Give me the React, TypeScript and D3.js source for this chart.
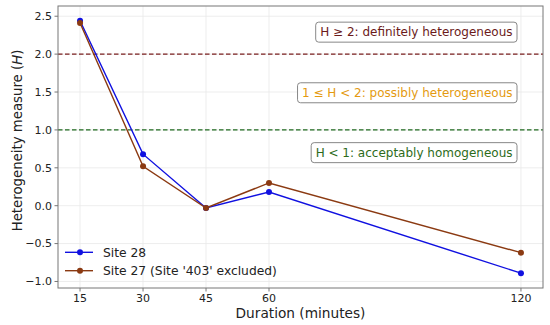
import React, { useEffect, useRef, useState } from 'react';
import * as d3 from 'd3';

const durations = [15, 30, 45, 60, 120];
const site28 = [2.44, 0.68, -0.03, 0.18, -0.89];
const site27 = [2.41, 0.52, -0.03, 0.3, -0.62];
const yTicks = [-1.0, -0.5, 0.0, 0.5, 1.0, 1.5, 2.0, 2.5];
const thresholds = [
  { value: 2.0, color: '#7a1f1f' },
  { value: 1.0, color: '#1f6a1f' },
];
const notes = [
  { label: 'H ≥ 2: definitely heterogeneous', value: 2.29, color: '#6b1a1a' },
  { label: '1 ≤ H < 2: possibly heterogeneous', value: 1.49, color: '#e49a10' },
  { label: 'H < 1: acceptably homogeneous', value: 0.7, color: '#2d6b1a' },
];

const W = 550, H = 325;
const m = { left: 58, right: 7, top: 6, bottom: 37 };
const font = 'DejaVu Sans, sans-serif';

export default function App() {
  const noteRefs = useRef<(SVGTextElement | null)[]>([]);
  const [noteW, setNoteW] = useState<number[]>(notes.map(n => n.label.length * 6.3));

  useEffect(() => {
    const ws = noteRefs.current.map((el, i) => (el ? el.getComputedTextLength() : noteW[i]));
    setNoteW(ws);
  }, []);

  const x = d3.scaleLinear().domain([9.75, 125.25]).range([m.left, W - m.right]);
  const y = d3.scaleLinear().domain([-1.086, 2.635]).range([H - m.bottom, m.top]);
  const line = d3.line<number>().x((_, i) => x(durations[i])).y(d => y(d));
  const series = [
    { name: 'Site 28', values: site28, color: '#1010e0' },
    { name: "Site 27 (Site '403' excluded)", values: site27, color: '#8b3a12' },
  ];
  const x0 = m.left, x1 = W - m.right, y0 = m.top, y1 = H - m.bottom;

  return (
    <svg width={W} height={H} style={{ position: 'absolute', left: 0, top: 0 }} fontFamily={font}>
      <rect width={W} height={H} fill="#fff" />
      {/* grid */}
      {durations.map(d => (
        <line key={'gx' + d} x1={x(d)} x2={x(d)} y1={y0} y2={y1} stroke="#e8e8e8" strokeWidth={0.8} />
      ))}
      {yTicks.map(t => (
        <line key={'gy' + t} x1={x0} x2={x1} y1={y(t)} y2={y(t)} stroke="#e8e8e8" strokeWidth={0.8} />
      ))}
      {thresholds.map(t => (
        <line key={'th' + t.value} x1={x0} x2={x1} y1={y(t.value)} y2={y(t.value)}
          stroke={t.color} strokeWidth={1.2} strokeDasharray="4.5,2.5" />
      ))}
      {series.map(s => (
        <g key={s.name}>
          <path d={line(s.values) || ''} fill="none" stroke={s.color} strokeWidth={1.4} />
          {s.values.map((v, i) => (
            <circle key={i} cx={x(durations[i])} cy={y(v)} r={3} fill={s.color} />
          ))}
        </g>
      ))}
      {notes.map((n, i) => {
        const w = noteW[i] + 9;
        const cy = y(n.value);
        return (
          <g key={n.label}>
            <rect x={517 - w} y={cy - 10} width={w} height={20} rx={3} fill="#fff"
              stroke="#888" strokeWidth={1} />
            <text ref={el => { noteRefs.current[i] = el; }} x={512.5} y={cy} dy="0.35em"
              textAnchor="end" fontSize={12} fill={n.color}>{n.label}</text>
          </g>
        );
      })}
      {/* legend */}
      {series.map((s, i) => (
        <g key={'lg' + i} transform={`translate(0,${252.3 + i * 18.4})`}>
          <line x1={65} x2={93} y1={0} y2={0} stroke={s.color} strokeWidth={1.4} />
          <circle cx={80} cy={0} r={3} fill={s.color} />
          <text x={103} y={0} dy="0.35em" fontSize={12.3} fill="#222">{s.name}</text>
        </g>
      ))}
      {/* axes */}
      <rect x={x0} y={y0} width={x1 - x0} height={y1 - y0} fill="none" stroke="#777" strokeWidth={1} />
      {durations.map(d => (
        <g key={'xt' + d}>
          <line x1={x(d)} x2={x(d)} y1={y1} y2={y1 + 3.5} stroke="#777" />
          <text x={x(d)} y={y1 + 14} textAnchor="middle" fontSize={11} fill="#222">{d}</text>
        </g>
      ))}
      {yTicks.map(t => (
        <g key={'yt' + t}>
          <line x1={x0 - 3.5} x2={x0} y1={y(t)} y2={y(t)} stroke="#777" />
          <text x={x0 - 6} y={y(t)} dy="0.35em" textAnchor="end" fontSize={11} fill="#222">
            {t < 0 ? '\u2212' + Math.abs(t).toFixed(1) : t.toFixed(1)}
          </text>
        </g>
      ))}
      <text x={(x0 + x1) / 2} y={318} textAnchor="middle" fontSize={13.7} fill="#222">Duration (minutes)</text>
      <text transform="translate(22,140.5) rotate(-90)" textAnchor="middle" fontSize={13.3} fill="#222">
        Heterogeneity measure (<tspan fontStyle="italic">H</tspan>)
      </text>
    </svg>
  );
}
